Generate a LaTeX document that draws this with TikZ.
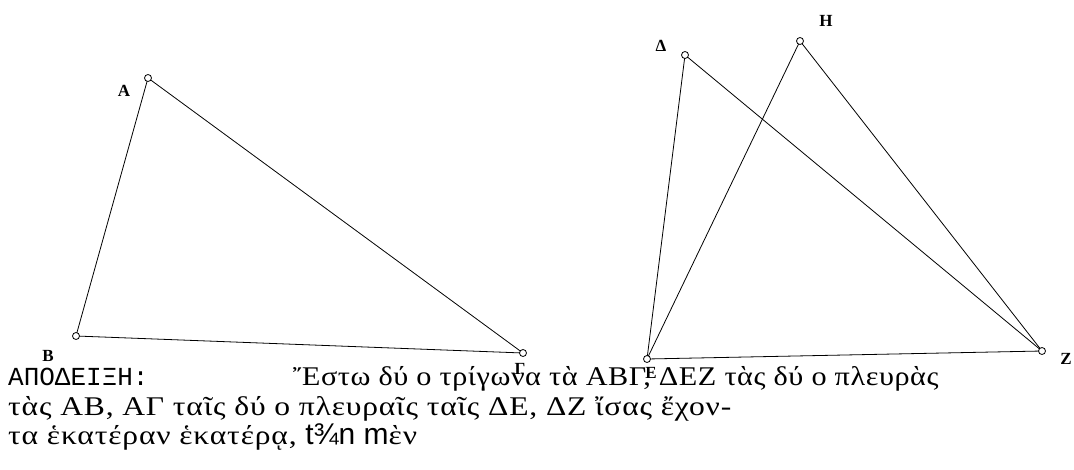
\documentclass[tikz,border=0pt]{standalone}
\usepackage{fontspec}
\setmainfont{Liberation Serif}
\newfontfamily\monogr{Liberation Mono}
\newfontfamily\sansgr{Liberation Sans}
\newfontfamily\textgr[FakeStretch=1.17, LetterSpace=3]{Liberation Serif}
\newfontfamily\textgrn[FakeStretch=1.12, LetterSpace=2]{Liberation Serif}
\usetikzlibrary{positioning}

\tikzset{
  side/.style={line width=0.8pt},
  pt/.style={line width=0.8pt, fill=white},
  lbl/.style={font=\fontsize{17}{17}\selectfont\bfseries, inner sep=0pt},
  txt/.style={font=\fontsize{27}{27}\textgr, anchor=base west, inner sep=0pt}
}

\begin{document}
\begin{tikzpicture}[x=1pt,y=-1pt]
\useasboundingbox (0,0) rectangle (1074,469);
%vertex
\coordinate (A) at (148,78); \coordinate (B) at (76,336); \coordinate (G) at (523,353);
\coordinate (D) at (685,55); \coordinate (H) at (800,41);
\coordinate (E) at (647,359); \coordinate (Z) at (1042,351);
%edge
\draw[side] (A)--(B); \draw[side] (B)--(G); \draw[side] (G)--(A);
\draw[side] (D)--(E); \draw[side] (E)--(Z); \draw[side] (Z)--(D);
\draw[side] (E)--(H); \draw[side] (H)--(Z);
%points
\foreach \p in {A,B,G,D,H,E,Z}
  \filldraw[pt] (\p) circle [radius=3.5];
%labels
\node[lbl] (lA) at (124,91) {Α};
\node[lbl] (lB) at (48,356) {Β};
\node[lbl] (lG) at (520,369) {Γ};
\node[lbl] (lE) at (651,373) {Ε};
\node[lbl] (lD) at (661,46) {Δ};
\node[lbl] (lH) at (826,21) {Η};
\node[lbl] (lZ) at (1066,359) {Ζ};
%text
\node[txt, font=\fontsize{26}{26}\monogr] (t0) at (8,385) {ΑΠΟΔΕΙΞΗ:};
\node[txt, font=\fontsize{27}{27}\textgrn] (t1) at (293,385) {Ἔστω δύ ο τρίγωνα τὰ ΑΒΓ, ΔΕΖ τὰς δύ ο πλευρὰς};
\node[txt] (t2) at (8,415) {τὰς ΑΒ, ΑΓ ταῖς δύ ο πλευραῖς ταῖς ΔΕ, ΔΖ ἴσας ἔχον-};
\node[txt] (t3) at (8,444) {τα ἑκατέραν ἑκατέρᾳ, {\fontsize{30}{30}\sansgr t¾n m}ὲν};
\end{tikzpicture}
\end{document}
